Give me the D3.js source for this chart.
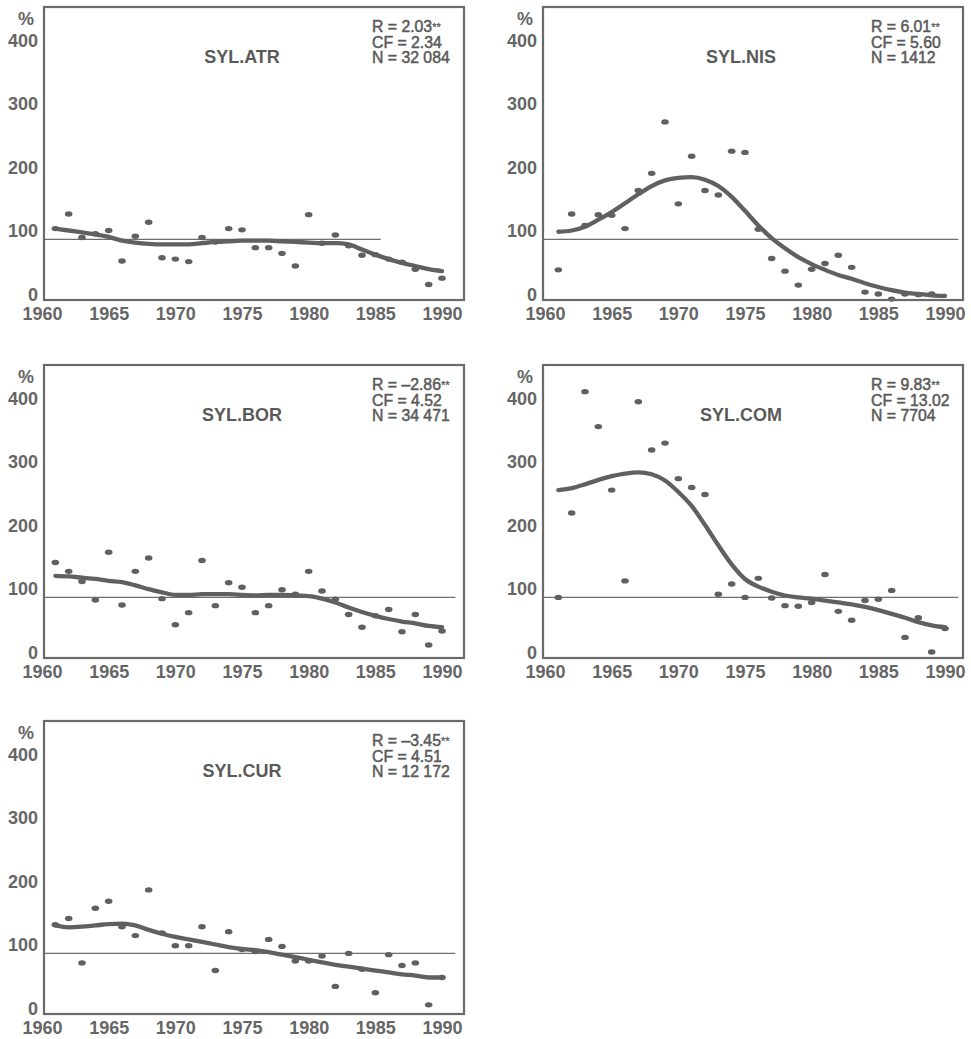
<!DOCTYPE html>
<html>
<head>
<meta charset="utf-8">
<script src="https://cdn.jsdelivr.net/npm/d3@7"></script>
<style>
  body { margin: 0; background: #fff; }
  svg { display: block; }
</style>
</head>
<body>
<div id="chart"></div>
<script>
var years = d3.range(1961, 1991);
var xTicks = [1960, 1965, 1970, 1975, 1980, 1985, 1990];
var yTicks = [0, 100, 200, 300, 400];
var refLevel = 86;

var names = ["SYL.ATR", "SYL.NIS", "SYL.BOR", "SYL.COM", "SYL.CUR"];
var rValues = ["2.03", "6.01", "\u20132.86", "9.83", "\u20133.45"];
var cfValues = ["2.34", "5.60", "4.52", "13.02", "4.51"];
var nValues = ["32 084", "1412", "34 471", "7704", "12 172"];
var refEnd = [1985.4, 1991, 1991, 1991, 1991];

// yearly dots, 1961..1990
var atrDots = [103, 126, 89, 95, 100, 52, 91, 113, 57, 55, 51, 89, 82, 103, 101, 73, 73, 64, 44, 125, 80, 93, 76, 61, 62, 55, 50, 39, 15, 25];
var nisDots = [38, 126, 108, 125, 124, 103, 163, 190, 271, 142, 217, 163, 156, 225, 223, 102, 56, 36, 14, 39, 48, 61, 42, 3, 0, -8, 0, -1, 0, null];
var borDots = [141, 127, 111, 82, 157, 74, 127, 148, 84, 43, 62, 144, 73, 109, 102, 62, 73, 98, 91, 127, 96, 83, 59, 39, 57, 67, 32, 59, 11, 33];
var comDots = [86, 219, 410, 355, 255, 112, 394, 318, 329, 273, 259, 248, 91, 107, 86, 116, 85, 73, 72, 78, 122, 64, 50, 81, 83, 97, 23, 54, 0, 37];
var curDots = [131, 141, 71, 157, 168, 128, 114, 186, 118, 98, 98, 128, 59, 120, 92, 89, 108, 97, 74, 74, 82, 34, 86, 61, 24, 84, 67, 71, 5, 48];

// smoothed trend, 1961..1990
var atrTrend = [103, 100, 97, 94, 90, 84, 81, 79, 78, 78, 78, 80, 82, 83, 84, 84, 84, 83, 82, 81, 80, 80, 78, 70, 62, 55, 49, 44, 39, 36];
var nisTrend = [98, 100, 106, 117, 129, 143, 157, 170, 179, 183, 184, 180, 170, 153, 131, 108, 88, 72, 58, 47, 38, 30, 24, 17, 11, 6, 2, 0, -2, -3];
var borTrend = [120, 119, 117, 115, 112, 110, 105, 99, 94, 90, 90, 91, 91, 91, 90, 89, 90, 90, 89, 88, 84, 78, 70, 63, 57, 52, 48, 45, 41, 39];
var comTrend = [255, 258, 264, 271, 277, 281, 283, 280, 270, 252, 230, 200, 168, 138, 115, 103, 95, 89, 86, 84, 81, 78, 75, 71, 66, 60, 54, 47, 42, 39];
var curTrend = [130, 127, 128, 130, 132, 133, 130, 123, 117, 112, 108, 104, 100, 96, 93, 91, 88, 84, 80, 76, 72, 68, 65, 62, 59, 56, 53, 51, 48, 48];

var allDots = [atrDots, nisDots, borDots, comDots, curDots];
var allTrends = [atrTrend, nisTrend, borTrend, comTrend, curTrend];

var ink = "#606060";
var labelInk = "#666";
var frameLeft = [44, 543], x1960 = [42, 545], frameTop = [7, 365, 721];
var frameW = 420, frameH = 293;

var svg = d3.select("#chart")
  .append("svg")
  .attr("width", 971)
  .attr("height", 1039);

function drawPanel(k) {
  var col = k % 2, row = Math.floor(k / 2);
  var fx = frameLeft[col], fy = frameTop[row];

  var x = d3.scaleLinear().domain([1960, 1990]).range([x1960[col], x1960[col] + 400]);
  var y = d3.scaleLinear().domain([0, 400]).range([fy + 287, fy + 33]);

  var g = svg.append("g");

  // reference line
  g.append("line")
  .attr("x1", fx)
  .attr("x2", Math.min(x(refEnd[k]), fx + frameW))
  .attr("y1", y(refLevel))
  .attr("y2", y(refLevel))
  .style("stroke", "#6e6e6e")
  .style("stroke-width", 1.4);

  var trend = years.map(function(yr, i) { return {x: x(yr), y: y(allTrends[k][i])}; });
  var line = d3.line()
  .curve(d3.curveMonotoneX)
  .x(function(d) { return d.x; })
  .y(function(d) { return d.y; });

  g.append("path")
  .attr("d", line(trend))
  .style("fill", "none")
  .style("stroke", ink)
  .style("stroke-width", 4.3)
  .style("stroke-linecap", "round");

  var dots = years.map(function(yr, i) { return {yr: yr, v: allDots[k][i]}; })
  .filter(function(d) { return d.v !== null; });

  g.selectAll("ellipse")
  .data(dots)
  .enter()
  .append("ellipse")
  .attr("cx", function(d) { return x(d.yr); })
  .attr("cy", function(d) { return y(d.v); })
  .attr("rx", 3.8)
  .attr("ry", 2.7)
  .style("fill", ink);

  // frame drawn over the marks
  g.append("rect")
  .attr("x", fx)
  .attr("y", fy)
  .attr("width", frameW)
  .attr("height", frameH)
  .style("fill", "none")
  .style("stroke", "#6a6a6a")
  .style("stroke-width", 2.2);

  var yAxis = d3.axisLeft(y).tickValues(yTicks).tickSize(0).tickPadding(0);
  var ya = g.append("g")
  .attr("transform", "translate(" + (fx - 6) + ",0)")
  .call(yAxis);
  ya.select(".domain").remove();
  ya.selectAll("text")
  .attr("font-family", "Liberation Sans, Arial, sans-serif")
  .attr("font-size", 18)
  .attr("font-weight", "bold")
  .attr("fill", labelInk)
  .attr("dy", "0.36em");

  var xAxis = d3.axisBottom(x).tickValues(xTicks).tickFormat(d3.format("d")).tickSize(0).tickPadding(0);
  var xa = g.append("g")
  .attr("transform", "translate(0," + (fy + frameH) + ")")
  .call(xAxis);
  xa.select(".domain").remove();
  xa.selectAll("text")
  .attr("font-family", "Liberation Sans, Arial, sans-serif")
  .attr("font-size", 18)
  .attr("font-weight", "bold")
  .attr("fill", labelInk)
  .attr("dy", "1.12em");

  g.append("text")
  .attr("x", fx - 10)
  .attr("y", fy + 18)
  .attr("text-anchor", "end")
  .attr("font-family", "Liberation Sans, Arial, sans-serif")
  .attr("font-size", 18)
  .attr("font-weight", "bold")
  .attr("fill", labelInk)
  .text("%");

  g.append("text")
  .attr("x", fx + 198)
  .attr("y", fy + 56)
  .attr("text-anchor", "middle")
  .attr("font-family", "Liberation Sans, Arial, sans-serif")
  .attr("font-size", 18)
  .attr("font-weight", "bold")
  .attr("fill", "#5a5a5a")
  .text(names[k]);

  var stats = g.append("g")
  .attr("font-family", "Liberation Sans, Arial, sans-serif")
  .attr("font-size", 15.8)
  .attr("fill", "#5a5a5a")
  .attr("stroke", "#5a5a5a")
  .attr("stroke-width", 0.5);

  var r = stats.append("text")
  .attr("x", fx + 328)
  .attr("y", fy + 25)
  .text("R = " + rValues[k]);
  r.append("tspan")
  .attr("font-size", 11)
  .attr("stroke-width", 0.3)
  .attr("dy", -1)
  .text("**");

  stats.append("text")
  .attr("x", fx + 328)
  .attr("y", fy + 41)
  .text("CF = " + cfValues[k]);

  stats.append("text")
  .attr("x", fx + 328)
  .attr("y", fy + 56)
  .text("N = " + nValues[k]);
}

for (var k = 0; k < names.length; k++) drawPanel(k);
</script>
</body>
</html>
